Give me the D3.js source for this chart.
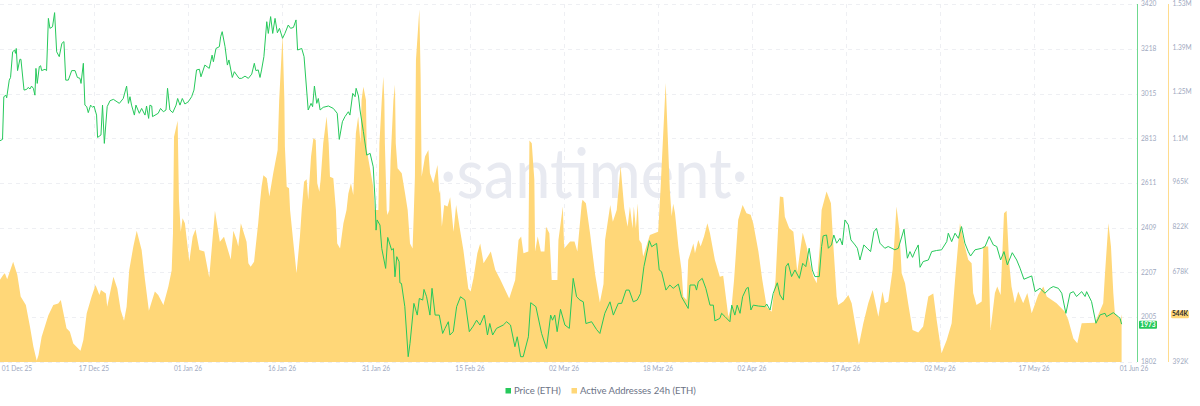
<!DOCTYPE html>
<html>
<head>
<meta charset="utf-8">
<script src="https://cdn.jsdelivr.net/npm/d3@7"></script>
<style>
html,body{margin:0;padding:0;background:#fff;overflow:hidden}
text{font-family:Lato,"Open Sans",sans-serif}
</style>
</head>
<body>
<svg id="chart" width="1200" height="406"></svg>
<script>
// Each row: [hours since 01 Dec 25 00:00, value]
const priceSeries = [[21,2802],[31,2808],[36,3001],[44,3008],[47,2996],[57,3076],[62,3088],[70,3204],[78,3212],[81,3197],[84,3219],[89,3119],[98,3170],[102,3170],[114,3031],[124,3034],[130,3043],[137,3036],[143,3049],[150,3039],[156,3008],[160,3129],[165,3061],[173,3137],[178,3141],[182,3119],[195,3125],[201,3119],[208,3355],[214,3310],[224,3317],[232,3381],[240,3204],[250,3182],[260,3242],[268,3250],[275,3076],[285,3076],[298,3119],[311,3119],[320,3088],[330,3084],[334,3061],[343,3152],[349,2963],[356,2956],[362,2929],[371,2963],[379,2953],[384,2959],[394,2918],[398,2817],[411,2828],[417,2963],[424,2790],[435,2956],[446,2983],[459,2989],[482,2971],[497,2993],[510,3049],[517,2971],[523,3001],[529,2963],[540,2918],[546,2963],[559,2926],[568,2948],[581,2918],[587,2959],[595,2903],[600,2963],[607,2959],[610,2911],[632,2926],[641,2948],[652,2933],[662,2941],[668,3039],[677,2941],[688,2929],[701,2963],[707,2993],[716,2963],[725,2993],[735,2968],[748,2978],[761,3001],[770,3031],[780,3122],[791,3125],[797,3091],[812,3144],[829,3129],[840,3189],[845,3159],[855,3219],[868,3227],[873,3272],[879,3295],[890,3227],[899,3144],[905,3167],[918,3088],[926,3114],[935,3099],[944,3084],[954,3084],[967,3094],[980,3084],[993,3103],[1003,3152],[1009,3119],[1018,3122],[1025,3088],[1031,3122],[1040,3182],[1051,3340],[1057,3287],[1066,3363],[1074,3287],[1083,3355],[1092,3290],[1100,3310],[1112,3265],[1121,3287],[1134,3325],[1143,3310],[1154,3314],[1164,3348],[1170,3212],[1186,3219],[1195,3182],[1211,2941],[1222,2971],[1228,2956],[1235,3049],[1244,2971],[1250,2993],[1257,2941],[1269,2953],[1289,2959],[1308,2948],[1323,2926],[1331,2808],[1343,2888],[1353,2911],[1366,2933],[1372,2918],[1383,3016],[1392,3001],[1396,3039],[1405,3004],[1411,2941],[1424,2843],[1437,2737],[1450,2745],[1462,2684],[1469,2534],[1473,2398],[1477,2444],[1488,2421],[1495,2315],[1510,2225],[1518,2365],[1527,2331],[1533,2308],[1540,2315],[1546,2187],[1553,2278],[1562,2255],[1565,2160],[1571,2157],[1584,2052],[1597,1826],[1604,1886],[1619,2067],[1632,2014],[1640,2089],[1653,2082],[1658,2130],[1668,2097],[1681,2014],[1689,2135],[1701,2014],[1717,2014],[1730,1931],[1739,1954],[1752,1984],[1758,1924],[1771,1939],[1784,2052],[1799,2097],[1816,2082],[1833,1939],[1848,1964],[1861,1991],[1874,1969],[1891,2014],[1903,1924],[1912,1976],[1923,1924],[1938,1954],[1964,1969],[1977,1984],[1992,1969],[2009,1871],[2018,1916],[2031,1826],[2041,1826],[2061,1916],[2070,2070],[2090,2052],[2112,1931],[2131,1863],[2147,2014],[2154,1991],[2163,2014],[2172,1939],[2185,2040],[2202,1969],[2219,1954],[2234,2180],[2247,2097],[2260,2082],[2273,2074],[2283,1976],[2305,1984],[2324,1949],[2337,1931],[2356,2022],[2376,2074],[2389,2014],[2408,2067],[2421,2067],[2438,2127],[2450,2127],[2466,2074],[2481,2082],[2494,2112],[2507,2233],[2528,2350],[2537,2323],[2556,2338],[2566,2218],[2575,2210],[2592,2127],[2607,2150],[2620,2135],[2640,2154],[2652,2097],[2678,2044],[2685,2150],[2704,2150],[2710,2127],[2717,2165],[2732,2180],[2746,2135],[2762,2059],[2775,2059],[2781,1988],[2800,1999],[2807,2022],[2820,2007],[2839,1984],[2846,2059],[2858,2014],[2867,2059],[2878,2022],[2888,2097],[2903,2135],[2910,2139],[2920,2037],[2929,2059],[2949,2055],[2974,2052],[2981,2064],[2994,2037],[3006,2112],[3022,2160],[3032,2105],[3045,2082],[3055,2233],[3064,2248],[3077,2188],[3090,2218],[3107,2180],[3120,2248],[3132,2233],[3145,2316],[3157,2218],[3167,2188],[3184,2188],[3193,2324],[3199,2372],[3212,2376],[3219,2316],[3231,2331],[3240,2376],[3251,2339],[3264,2361],[3273,2331],[3283,2444],[3296,2422],[3306,2354],[3322,2331],[3331,2316],[3341,2263],[3356,2331],[3369,2316],[3382,2301],[3395,2391],[3405,2406],[3418,2339],[3437,2316],[3450,2324],[3476,2309],[3489,2316],[3511,2402],[3524,2271],[3534,2301],[3544,2275],[3553,2301],[3566,2331],[3573,2230],[3585,2256],[3605,2263],[3618,2301],[3637,2306],[3656,2309],[3676,2346],[3682,2384],[3695,2346],[3708,2384],[3721,2361],[3733,2414],[3746,2339],[3759,2301],[3768,2281],[3785,2309],[3811,2316],[3824,2324],[3840,2369],[3856,2331],[3869,2324],[3884,2263],[3897,2301],[3910,2241],[3929,2296],[3946,2263],[3959,2226],[3974,2176],[4004,2191],[4017,2120],[4036,2135],[4055,2113],[4075,2135],[4087,2143],[4107,2135],[4120,2113],[4136,2022],[4152,2113],[4165,2120],[4177,2098],[4197,2120],[4210,2098],[4216,2120],[4235,2075],[4252,1977],[4268,2015],[4287,2022],[4293,2007],[4319,2025],[4338,2007],[4345,2000],[4351,1973]];

const activeSeries = [[21,653],[34,669],[40,674],[49,655],[72,711],[88,669],[101,600],[121,573],[137,504],[150,441],[163,396],[170,414],[182,472],[208,541],[227,573],[246,578],[256,589],[278,499],[291,488],[304,451],[323,435],[332,428],[343,462],[356,547],[375,600],[390,637],[405,605],[411,621],[430,610],[435,568],[459,663],[474,626],[487,557],[500,523],[510,568],[520,684],[536,759],[549,809],[568,748],[581,653],[596,555],[619,616],[632,605],[652,573],[671,631],[684,684],[689,801],[693,1108],[707,1159],[712,907],[719,806],[726,849],[735,833],[752,711],[765,790],[776,814],[791,748],[810,743],[829,661],[851,873],[870,774],[886,790],[912,718],[922,809],[935,780],[941,759],[951,833],[973,774],[980,706],[989,695],[1002,711],[1018,833],[1025,900],[1031,949],[1038,986],[1051,976],[1061,918],[1076,992],[1093,1066],[1099,1225],[1112,1432],[1119,1225],[1121,1077],[1128,949],[1137,944],[1141,875],[1154,769],[1166,674],[1179,790],[1186,875],[1195,965],[1205,973],[1211,907],[1222,1045],[1231,1103],[1240,1098],[1246,960],[1254,933],[1259,971],[1269,1087],[1282,1172],[1290,1087],[1295,981],[1308,976],[1318,875],[1323,769],[1334,753],[1347,833],[1359,875],[1366,928],[1376,960],[1385,923],[1395,1119],[1404,1172],[1413,1087],[1417,1225],[1424,1267],[1434,1225],[1437,1066],[1462,949],[1468,875],[1482,875],[1486,1087],[1495,1225],[1501,1299],[1505,1225],[1507,1087],[1514,875],[1517,859],[1524,875],[1529,1034],[1540,1225],[1546,1273],[1549,1087],[1556,1008],[1572,992],[1585,928],[1595,875],[1604,769],[1614,753],[1619,875],[1623,981],[1627,1352],[1640,1513],[1645,1300],[1649,981],[1662,1045],[1675,1066],[1681,992],[1694,960],[1710,1018],[1717,928],[1720,939],[1727,822],[1736,891],[1749,886],[1759,916],[1772,806],[1782,891],[1795,822],[1810,748],[1829,626],[1838,616],[1849,658],[1864,738],[1875,769],[1888,706],[1916,743],[1933,685],[1952,655],[1987,594],[2010,653],[2023,780],[2033,791],[2042,738],[2061,743],[2065,1096],[2074,1087],[2084,971],[2087,743],[2097,791],[2109,743],[2123,743],[2129,822],[2142,801],[2151,653],[2173,653],[2177,780],[2194,886],[2199,753],[2222,775],[2239,775],[2250,743],[2267,897],[2270,908],[2283,897],[2299,801],[2319,669],[2337,581],[2351,640],[2357,780],[2377,891],[2387,838],[2402,875],[2417,1014],[2431,881],[2444,822],[2453,886],[2463,817],[2468,886],[2476,817],[2483,897],[2489,780],[2498,769],[2504,727],[2530,796],[2562,806],[2571,939],[2591,1279],[2607,939],[2614,855],[2620,895],[2627,865],[2640,759],[2652,685],[2659,600],[2672,589],[2678,716],[2698,769],[2704,738],[2717,780],[2726,759],[2739,791],[2752,833],[2762,801],[2781,716],[2800,663],[2813,666],[2833,536],[2846,573],[2855,653],[2871,844],[2888,891],[2903,865],[2919,860],[2929,833],[2949,743],[2964,653],[2981,568],[3000,552],[3015,653],[3026,833],[3032,918],[3045,916],[3051,854],[3068,817],[3084,806],[3099,679],[3120,803],[3135,759],[3148,706],[3161,664],[3174,642],[3186,759],[3193,875],[3212,934],[3229,897],[3237,780],[3251,600],[3257,573],[3277,584],[3296,605],[3309,579],[3322,515],[3337,446],[3354,515],[3373,579],[3390,621],[3412,536],[3428,616],[3437,579],[3450,584],[3467,685],[3482,886],[3493,812],[3502,674],[3515,642],[3527,579],[3544,494],[3566,486],[3585,505],[3605,600],[3624,610],[3637,526],[3656,420],[3676,462],[3695,515],[3708,653],[3727,833],[3746,759],[3759,717],[3772,706],[3778,611],[3791,573],[3811,584],[3817,759],[3836,759],[3845,494],[3862,611],[3871,632],[3884,605],[3897,865],[3907,873],[3917,706],[3926,632],[3939,579],[3952,616],[3971,579],[3987,611],[4004,547],[4029,605],[4049,632],[4062,600],[4100,579],[4132,552],[4145,526],[4165,467],[4180,452],[4197,515],[4248,517],[4280,579],[4287,674],[4300,833],[4310,759],[4319,611],[4325,547],[4347,526],[4351,544]];

const dateLabels = ["01 Dec 25","17 Dec 25","01 Jan 26","16 Jan 26","31 Jan 26","15 Feb 26","02 Mar 26","18 Mar 26","02 Apr 26","17 Apr 26","02 May 26","17 May 26","01 Jun 26"];
const priceTicks = [3420,3218,3015,2813,2611,2409,2207,2005,1802];
const activeTicks = [1530,1390,1250,1100,965,822,678,392];
const activeTickLabels = ["1.53M","1.39M","1.25M","1.1M","965K","822K","678K","392K"];
const seriesNames = ["Price (ETH)","Active Addresses 24h (ETH)"];
const lastPrice = 1973, lastActive = 544;

const GREEN = "#26c95b", YELLOW = "#ffd778", GRID = "#eeeff3", TICK = "#a0a9c0";
const svg = d3.select("#chart");
const plotRight = 1137, plotTop = 4, plotBottom = 362;

const x = d3.scaleLinear().domain([0,4368]).range([-5.5,1126]);
const xTicks = d3.scalePoint().domain(dateLabels).range([0,1128]);
const yPrice = d3.scaleLinear().domain([1802,3420]).range([plotBottom,plotTop]);
const yActive = d3.scaleLinear().domain([392,1530]).range([plotBottom,plotTop]);

// gridlines
const grid = svg.append("g").attr("stroke",GRID).attr("stroke-width",1).attr("stroke-dasharray","4 4");
priceTicks.forEach(t=>grid.append("line").attr("x1",0).attr("x2",plotRight).attr("y1",Math.round(yPrice(t))+.5).attr("y2",Math.round(yPrice(t))+.5));
dateLabels.slice(1,-1).forEach(l=>grid.append("line").attr("x1",xTicks(l)+.5).attr("x2",xTicks(l)+.5).attr("y1",plotTop).attr("y2",plotBottom));

// watermark
svg.append("text").attr("x",594).attr("y",198).attr("text-anchor","middle")
  .attr("font-size",70).attr("font-weight",400).attr("fill","#e8eaf1")
  .attr("textLength",308).attr("lengthAdjust","spacingAndGlyphs")
  .text("·santiment·");

// area
const area = d3.area().x(d=>x(d[0])).y0(plotBottom).y1(d=>yActive(d[1]));
svg.append("path").datum(activeSeries).attr("fill",YELLOW).attr("d",area);

// price line
const line = d3.line().x(d=>x(d[0])).y(d=>yPrice(d[1]));
svg.append("path").datum(priceSeries).attr("fill","none").attr("stroke",GREEN).attr("stroke-width",1).attr("stroke-linejoin","round").attr("d",line);

// right axes
svg.append("line").attr("x1",1137.5).attr("x2",1137.5).attr("y1",plotTop).attr("y2",plotBottom).attr("stroke","#6fd98f").attr("stroke-width",1);
svg.append("line").attr("x1",1168.5).attr("x2",1168.5).attr("y1",plotTop).attr("y2",plotBottom).attr("stroke","#ffdc8e").attr("stroke-width",1);

const tickFont = 6.6;
priceTicks.forEach(t=>svg.append("text").attr("x",1141).attr("y",yPrice(t)+2.2).attr("font-size",tickFont).attr("fill",TICK).text(t));
activeTicks.forEach((t,i)=>svg.append("text").attr("x",1172.5).attr("y",yActive(t)+2.2).attr("font-size",tickFont).attr("fill",TICK).text(activeTickLabels[i]));

// date labels
dateLabels.forEach((l,i)=>{
  const edge = i===0 ? 17 : (i===dateLabels.length-1 ? 6 : 0);
  svg.append("text").attr("x",xTicks(l)+edge).attr("y",370.5).attr("text-anchor","middle")
    .attr("font-size",tickFont).attr("fill",TICK).text(l);
});

// last-value tags
const py = yPrice(lastPrice);
svg.append("rect").attr("x",1139).attr("y",py-3.5).attr("width",18).attr("height",8).attr("rx",1).attr("fill",GREEN);
svg.append("text").attr("x",1148).attr("y",py+2.9).attr("text-anchor","middle").attr("font-size",tickFont).attr("font-weight",700).attr("fill","#fff").text(lastPrice);
const ay = yActive(lastActive);
svg.append("rect").attr("x",1171).attr("y",ay-4).attr("width",18).attr("height",8).attr("rx",1.5).attr("fill",YELLOW);
svg.append("text").attr("x",1180).attr("y",ay+2.3).attr("text-anchor","middle").attr("font-size",tickFont).attr("font-weight",700).attr("fill","#2b2b2b").text(lastActive+"K");

// legend
const legend = svg.append("g");
legend.append("rect").attr("x",505.5).attr("y",388).attr("width",5.5).attr("height",5.5).attr("fill",GREEN);
legend.append("text").attr("x",514).attr("y",394).attr("font-size",9.5).attr("fill","#6b7285").text(seriesNames[0]);
legend.append("rect").attr("x",571.5).attr("y",388).attr("width",5.5).attr("height",5.5).attr("fill",YELLOW);
legend.append("text").attr("x",580).attr("y",394).attr("font-size",9.5).attr("fill","#6b7285").text(seriesNames[1]);
</script>
</body>
</html>
